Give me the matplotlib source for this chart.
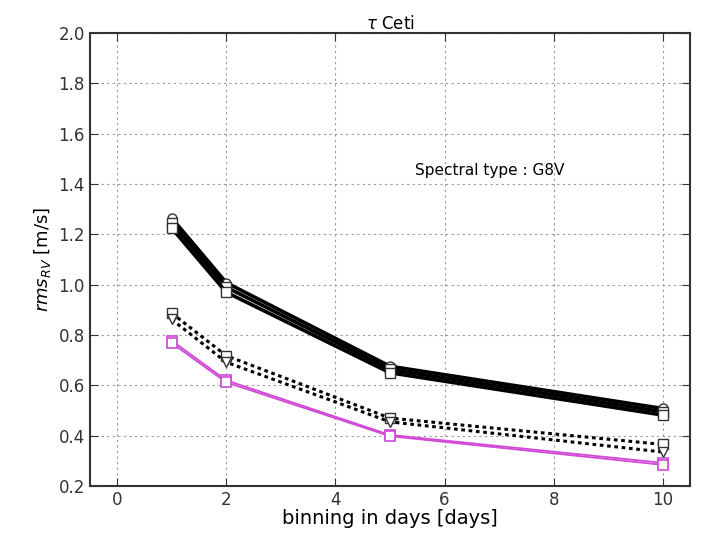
import matplotlib
matplotlib.use("Agg")
import matplotlib.pyplot as plt

bins = [1, 2, 5, 10]

solid_a = [1.265, 1.008, 0.676, 0.508]
solid_b = [1.245, 0.99, 0.663, 0.495]
solid_c = [1.225, 0.970, 0.650, 0.482]
dash_a = [0.887, 0.718, 0.470, 0.365]
dash_b = [0.862, 0.692, 0.455, 0.335]
mag_a = [0.778, 0.620, 0.403, 0.292]
mag_b = [0.768, 0.612, 0.398, 0.284]

xticks = [0, 2, 4, 6, 8, 10]
yticks = [0.2, 0.4, 0.6, 0.8, 1.0, 1.2, 1.4, 1.6, 1.8, 2.0]

fig = plt.figure(figsize=(7.02, 5.43), dpi=100)
ax = fig.add_axes([0.128, 0.105, 0.855, 0.834])

for ys, m in [(solid_a, 'o'), (solid_b, 's'), (solid_c, 's')]:
    ax.plot(bins, ys, color='black', lw=2.6, marker=m, ms=6.5, mfc='white',
            mec='#333333', mew=1.0, zorder=3)
for ys, m in [(dash_a, 's'), (dash_b, 'v')]:
    ax.plot(bins, ys, color='black', lw=2.2, ls=(0, (1.2, 1.2)), marker=m, ms=6.5,
            mfc='white', mec='#333333', mew=1.0, zorder=3)
for ys in [mag_a, mag_b]:
    ax.plot(bins, ys, color='#d04ad6', lw=1.3, marker='s', ms=6.5, mfc='white',
            mec='#d04ad6', mew=1.2, zorder=3)

ax.set_xlim(-0.5, 10.5)
ax.set_ylim(0.2, 2.0)
ax.set_xticks(xticks)
ax.set_yticks(yticks)
ax.set_yticklabels([f"{v:.1f}" for v in yticks])
ax.grid(True, ls=(0, (2, 3)), color='#999999', lw=0.8)
ax.tick_params(direction='in', top=True, right=True, length=6, labelsize=12,
               colors='#333333')
for s in ax.spines.values():
    s.set_linewidth(1.5)
    s.set_color('#333333')

ax.set_title(r'$\tau$ Ceti', fontsize=12, pad=3)
ax.set_xlabel('binning in days [days]', fontsize=14, labelpad=0)
ax.set_ylabel(r'$rms_{RV}$ [m/s]', fontsize=13, labelpad=4)
ax.text(6.83, 1.455, 'Spectral type : G8V', ha='center', va='center', fontsize=11)

fig.savefig('out.png', dpi=100)
